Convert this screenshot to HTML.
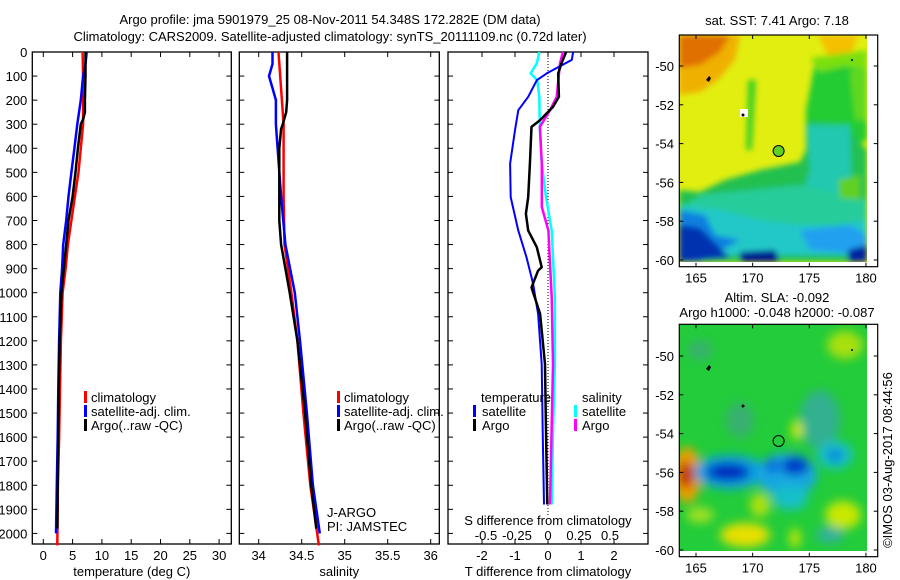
<!DOCTYPE html>
<html><head><meta charset="utf-8">
<style>
html,body{margin:0;padding:0;background:#fff;}
svg{display:block;font-family:"Liberation Sans",sans-serif;}
text{font-size:13px;fill:#000;}
</style></head>
<body>
<svg id="fig" width="900" height="580" viewBox="0 0 900 580" xmlns="http://www.w3.org/2000/svg">
<defs>
<filter id="bl" x="-10%" y="-10%" width="120%" height="120%"><feGaussianBlur stdDeviation="3"/></filter>
<filter id="bl2" x="-10%" y="-10%" width="120%" height="120%"><feGaussianBlur stdDeviation="5"/></filter>
<clipPath id="c1"><rect x="679" y="35" width="188" height="227"/></clipPath>
<clipPath id="c2"><rect x="679" y="324" width="188" height="227"/></clipPath>
</defs>
<text x="330" y="24" text-anchor="middle">Argo profile: jma 5901979_25 08-Nov-2011 54.348S 172.282E (DM data)</text>
<text x="330" y="41" text-anchor="middle">Climatology: CARS2009. Satellite-adjusted climatology: synTS_20111109.nc (0.72d later)</text>

<g id="axes"></g>
<g id="series"></g>

<!-- legends -->
<g>
<rect x="84" y="391" width="3" height="12" fill="#f00"/><text x="91" y="402">climatology</text>
<rect x="84" y="405" width="3" height="12" fill="#00f"/><text x="91" y="416">satellite-adj. clim.</text>
<rect x="84" y="419" width="3" height="12" fill="#000"/><text x="91" y="430">Argo(..raw -QC)</text>
</g>
<g>
<rect x="337" y="391" width="3" height="12" fill="#f00"/><text x="344" y="402">climatology</text>
<rect x="337" y="405" width="3" height="12" fill="#00f"/><text x="344" y="416">satellite-adj. clim.</text>
<rect x="337" y="419" width="3" height="12" fill="#000"/><text x="344" y="430">Argo(..raw -QC)</text>
<text x="327" y="517">J-ARGO</text>
<text x="327" y="531">PI: JAMSTEC</text>
</g>
<g>
<text x="481" y="402">temperature</text>
<rect x="473" y="405" width="3" height="12" fill="#00f"/><text x="482" y="416">satellite</text>
<rect x="473" y="419" width="3" height="12" fill="#000"/><text x="482" y="430">Argo</text>
<text x="582" y="402">salinity</text>
<rect x="574" y="405" width="3" height="12" fill="#0ff"/><text x="582" y="416">satellite</text>
<rect x="574" y="419" width="3" height="12" fill="#f0f"/><text x="582" y="430">Argo</text>
<text x="548" y="525" text-anchor="middle">S difference from climatology</text>
</g>

<!-- SST map -->
<text x="777" y="25" text-anchor="middle">sat. SST: 7.41 Argo: 7.18</text>
<g clip-path="url(#c1)">
<rect x="679" y="35" width="188" height="227" fill="#e2ee10"/>
<g filter="url(#bl)">
<polygon points="679,35 740,35 735,60 718,80 700,92 679,95" fill="#f0b000"/>
<polygon points="679,35 730,35 720,52 700,65 679,68" fill="#e07000"/>
<polygon points="818,35 858,35 850,58 830,60" fill="#f4c000"/>
<polygon points="815,62 867,55 867,140 845,150 820,150 806,140 806,110" fill="#20cc30"/>
<polygon points="810,58 867,50 867,70 845,66 820,72" fill="#7ae010"/>
<polygon points="850,70 867,70 867,120 855,120" fill="#60d820"/>
<polygon points="679,190 700,192 725,180 760,170 800,162 806,150 806,125 812,120 850,130 867,150 867,262 679,262" fill="#20c050"/>
<polygon points="806,125 850,125 852,200 820,215 800,200 810,170" fill="#20c8b0"/>
<polygon points="700,195 800,185 867,200 867,250 679,250 679,210" fill="#28cc9a"/>
<polygon points="679,205 720,210 760,220 800,225 840,225 867,220 867,255 679,255" fill="#20c8c8"/>
<polygon points="679,210 705,215 715,235 740,240 700,262 679,262" fill="#1080e0"/>
<polygon points="800,230 850,225 867,235 867,255 810,250" fill="#20a0f0"/>
<polygon points="679,225 700,228 712,240 730,258 679,262" fill="#0030b0"/>
<polygon points="740,252 775,250 780,262 740,262" fill="#001890"/>
<polygon points="848,250 867,245 867,262 848,262" fill="#0020a0"/>
<polygon points="748,80 756,80 752,150 746,150" fill="#40d020"/>
<polygon points="838,180 860,175 860,200 840,198" fill="#60d020"/>
</g>
<path d="M706,80 l3,-4 l2,2 l-2,4 z" fill="#000"/>
<rect x="740" y="109" width="8" height="8" fill="#fff"/><circle cx="743" cy="115" r="1.5" fill="#000"/>
<circle cx="852" cy="60" r="1" fill="#000"/>
</g>
<circle cx="778.6" cy="151" r="5.5" fill="#60d020" stroke="#000" stroke-width="1"/>

<!-- SLA map -->
<text x="777" y="302" text-anchor="middle">Altim. SLA: -0.092</text>
<text x="777" y="317" text-anchor="middle">Argo h1000: -0.048 h2000: -0.087</text>
<g clip-path="url(#c2)">
<rect x="679" y="324" width="188" height="227" fill="#22cc3a"/>
<g filter="url(#bl2)">
<ellipse cx="700" cy="350" rx="12" ry="10" fill="#38b070"/>
<ellipse cx="740" cy="420" rx="14" ry="18" fill="#38b070"/>
<ellipse cx="820" cy="420" rx="20" ry="30" fill="#30b090"/>
<ellipse cx="845" cy="345" rx="18" ry="14" fill="#a8e010"/>
<ellipse cx="687" cy="475" rx="14" ry="28" fill="#f0a000"/>
<ellipse cx="686" cy="475" rx="8" ry="14" fill="#c03000"/>
<ellipse cx="730" cy="472" rx="36" ry="17" fill="#10a0e0"/>
<ellipse cx="728" cy="472" rx="22" ry="9" fill="#0020c0"/>
<ellipse cx="787" cy="475" rx="30" ry="22" fill="#18a8e0"/>
<ellipse cx="795" cy="466" rx="14" ry="9" fill="#0030c8"/>
<ellipse cx="772" cy="466" rx="6" ry="8" fill="#1060e0"/>
<ellipse cx="790" cy="498" rx="18" ry="12" fill="#18c0c8"/>
<ellipse cx="835" cy="455" rx="18" ry="14" fill="#18c0c8"/>
<ellipse cx="835" cy="455" rx="8" ry="6" fill="#1080e0"/>
<ellipse cx="745" cy="535" rx="25" ry="12" fill="#e8e000"/>
<ellipse cx="760" cy="505" rx="10" ry="12" fill="#b0e010"/>
<ellipse cx="843" cy="515" rx="18" ry="14" fill="#c8e800"/>
<ellipse cx="797" cy="430" rx="6" ry="10" fill="#c8e800"/>
<ellipse cx="795" cy="538" rx="5" ry="10" fill="#d0e800"/>
<ellipse cx="830" cy="535" rx="14" ry="8" fill="#30b0a0"/>
<ellipse cx="700" cy="515" rx="14" ry="8" fill="#a0e020"/>
</g>
<path d="M706,369 l3,-4 l2,2 l-2,4 z" fill="#000"/>
<circle cx="743" cy="406" r="1.5" fill="#000"/>
<circle cx="852" cy="350" r="1" fill="#000"/>
</g>
<circle cx="778.6" cy="441" r="5.5" fill="none" stroke="#000" stroke-width="1"/>
<text x="0" y="0" transform="translate(892,460) rotate(-90)" text-anchor="middle">©IMOS 03-Aug-2017 08:44:56</text>
<g id="maxes"></g>
</svg>
<script>
// ---------- data ----------
const depthTicks = [0,100,200,300,400,500,600,700,800,900,1000,1100,1200,1300,1400,1500,1600,1700,1800,1900,2000];
const tempTicks = [0,5,10,15,20,25,30];
const salTicks = [34,34.5,35,35.5,36];
const salTickLabels = ["34","34.5","35","35.5","36"];
const tdiffTicks = [-2,-1,0,1,2];
const sdiffTicks = [-0.5,-0.25,0,0.25,0.5];
const sdiffTickLabels = ["-0.5","-0.25","0","0.25","0.5"];

const tClimDepth = [0,100,200,300,400,500,600,700,800,900,1000,1200,1400,1600,1800,2050];
const tClimVal   = [6.7,6.8,6.8,6.8,6.4,6.0,5.4,4.8,4.2,3.8,3.3,3.0,2.85,2.7,2.5,2.39];
const tSatDepth  = [0,50,100,200,300,400,500,600,700,800,900,1000,1200,1400,1600,1800,2000];
const tSatVal    = [7.4,7.2,6.8,6.4,5.8,5.3,4.8,4.3,3.9,3.4,3.2,2.9,2.7,2.56,2.45,2.3,2.17];
const tArgoDepth = [0,100,200,250,280,300,400,500,600,700,800,900,1000,1200,1400,1600,1800,1980];
const tArgoVal   = [7.2,7.2,7.1,7.1,6.8,6.4,5.9,5.5,5.0,4.3,3.9,3.5,3.1,2.8,2.65,2.55,2.45,2.4];

const sClimDepth = [0,100,200,300,600,800,1000,1200,1500,1800,2050];
const sClimVal   = [34.23,34.25,34.27,34.29,34.29,34.30,34.38,34.45,34.52,34.60,34.70];
const sSatDepth  = [0,50,100,150,200,300,400,600,800,1000,1200,1500,1800,2000];
const sSatVal    = [34.16,34.16,34.12,34.16,34.20,34.20,34.22,34.26,34.31,34.42,34.48,34.56,34.63,34.71];
const sArgoDepth = [0,100,200,250,300,320,400,600,700,800,900,1000,1200,1500,1800,1980];
const sArgoVal   = [34.33,34.33,34.33,34.32,34.28,34.26,34.24,34.24,34.24,34.26,34.31,34.36,34.45,34.54,34.61,34.67];

const dTSatDepth = [0,33,89,117,186,242,325,464,603,742,853,963,1088,1297,1575,1880];
const dTSatVal   = [0.76,0.72,-0.04,-0.34,-0.6,-0.9,-1.0,-1.15,-1.13,-0.9,-0.65,-0.45,-0.3,-0.19,-0.16,-0.12];
const dTArgoDepth = [0,47,89,186,228,283,311,464,603,672,742,811,894,908,978,1088,1297,1575,1880];
const dTArgoVal   = [0.55,0.41,0.31,0.33,0.15,-0.24,-0.5,-0.55,-0.6,-0.67,-0.6,-0.34,-0.19,-0.3,-0.5,-0.24,-0.09,-0.06,-0.02];
const dSSatDepth = [0,47,89,117,186,325,464,603,742,1020,1297,1575,1880];
const dSSatVal   = [-0.07,-0.09,-0.14,-0.086,-0.07,-0.065,-0.05,-0.016,0.03,0.056,0.056,0.04,0.03];
const dSArgoDepth = [0,47,186,242,311,464,644,742,880,1020,1297,1880];
const dSArgoVal   = [0.12,0.097,0.07,0.016,-0.065,-0.05,-0.05,0.003,0.016,0.03,0.04,0.016];

const latTicks = [-50,-52,-54,-56,-58,-60];
const lonTicks = [165,170,175,180];

// ---------- scales ----------
const Y0 = 52, YTOP = 52, YBOT = 544;
const yD = d => Y0 + d * 0.2407;
const xT = v => 43.3 + v * 5.86;
const xS = v => 258.7 + (v - 34) * 86;
const xDT = v => 548 + v * 33;
const xDS = v => 548 + v * 124;
const NS = "http://www.w3.org/2000/svg";
const axes = document.getElementById('axes');
const series = document.getElementById('series');
function mk(tag, attrs, parent){const e=document.createElementNS(NS,tag);for(const k in attrs)e.setAttribute(k,attrs[k]);parent.appendChild(e);return e;}

const panels = [
 {x0:32.3,x1:231.3,name:'temperature-panel',xt:tempTicks,xl:tempTicks.map(String),xs:xT,title:'temperature (deg C)',labels:true},
 {x0:239.3,x1:439.3,name:'salinity-panel',xt:salTicks,xl:salTickLabels,xs:xS,title:'salinity'},
 {x0:448,x1:648,name:'difference-panel',xt:tdiffTicks,xl:tdiffTicks.map(String),xs:xDT,title:'T difference from climatology'}
];
panels.forEach(p=>{
  const r = mk('rect',{x:p.x0,y:YTOP,width:p.x1-p.x0,height:YBOT-YTOP,fill:'none',stroke:'#000','stroke-width':1.3},axes);
  
  
  depthTicks.forEach(d=>{
    const y=yD(d);
    mk('line',{x1:p.x0,x2:p.x0+5,y1:y,y2:y,stroke:'#000'},axes);
    mk('line',{x1:p.x1,x2:p.x1-5,y1:y,y2:y,stroke:'#000'},axes);
    if(p.labels){
      const t=mk('text',{x:p.x0-5,y:y+5,'text-anchor':'end'},axes);
      t.textContent=d;
      
      
    }
  });
  p.xt.forEach((v,i)=>{
    const x=p.xs(v);
    mk('line',{x1:x,x2:x,y1:YTOP,y2:YTOP+5,stroke:'#000'},axes);
    mk('line',{x1:x,x2:x,y1:YBOT,y2:YBOT-5,stroke:'#000'},axes);
    const t=mk('text',{x:x,y:560,'text-anchor':'middle'},axes);
    t.textContent=p.xl[i];
    
    
  });
  const tt=mk('text',{x:(p.x0+p.x1)/2,y:576,'text-anchor':'middle'},axes);
  tt.textContent=p.title;
  
  
});
sdiffTicks.forEach((v,i)=>{
  const t=mk('text',{x:xDS(v),y:540,'text-anchor':'middle'},axes);
  t.textContent=sdiffTickLabels[i];
  
  
});
const zl = mk('line',{x1:xDT(0),x2:xDT(0),y1:YTOP,y2:515,stroke:'#000','stroke-dasharray':'1,2'},axes);



function line(ds, vs, xs, col, name, w){
  const pts = ds.map((d,i)=>xs(vs[i]).toFixed(1)+','+yD(d).toFixed(1)).join(' ');
  const e = mk('polyline',{points:pts,fill:'none',stroke:col,'stroke-width':w||2.5,'stroke-linejoin':'round'},series);
  
  
}
line(tClimDepth,tClimVal,xT,'#f00','temp-climatology-line');
line(tSatDepth,tSatVal,xT,'#00f','temp-satellite-line');
line(tArgoDepth,tArgoVal,xT,'#000','temp-argo-line');
line(sClimDepth,sClimVal,xS,'#f00','sal-climatology-line');
line(sSatDepth,sSatVal,xS,'#00f','sal-satellite-line');
line(sArgoDepth,sArgoVal,xS,'#000','sal-argo-line');
line(dSSatDepth,dSSatVal,xDS,'#0ff','sdiff-satellite-line');
line(dSArgoDepth,dSArgoVal,xDS,'#f0f','sdiff-argo-line');
line(dTSatDepth,dTSatVal,xDT,'#00f','tdiff-satellite-line',2);
line(dTArgoDepth,dTArgoVal,xDT,'#000','tdiff-argo-line');

// map axes
const maxes = document.getElementById('maxes');
[{top:35,bot:266.7,lat50:66,name:'sst-map'},{top:324.3,bot:556.7,lat50:356,name:'sla-map'}].forEach(m=>{
  const r=mk('rect',{x:679.3,y:m.top,width:198.4,height:m.bot-m.top,fill:'none',stroke:'#000','stroke-width':1.2},maxes);
  
  
  latTicks.forEach(l=>{
    const y=m.lat50+(-50-l)*19.4;
    mk('line',{x1:679.3,x2:683.3,y1:y,y2:y,stroke:'#000'},maxes);
    mk('line',{x1:877.7,x2:873.7,y1:y,y2:y,stroke:'#000'},maxes);
    const t=mk('text',{x:674,y:y+5,'text-anchor':'end'},maxes);
    t.textContent=l;
    
    
  });
  lonTicks.forEach(l=>{
    const x=696+(l-165)*11.33;
    mk('line',{x1:x,x2:x,y1:m.top,y2:m.top+4,stroke:'#000'},maxes);
    mk('line',{x1:x,x2:x,y1:m.bot,y2:m.bot-4,stroke:'#000'},maxes);
    const t=mk('text',{x:x,y:m.bot+16,'text-anchor':'middle'},maxes);
    t.textContent=l;
    
    
  });
});
</script>
</body></html>
